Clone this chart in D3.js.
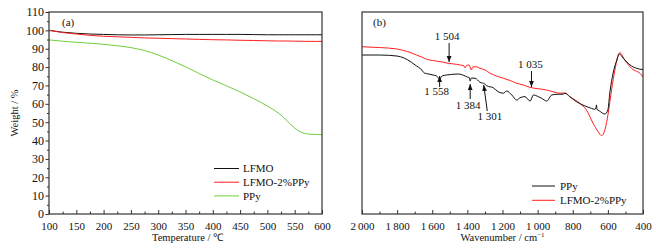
<!DOCTYPE html>
<html>
<head>
<meta charset="utf-8">
<script src="https://cdn.jsdelivr.net/npm/d3@7"></script>
<style>
  body { margin: 0; background: #fff; }
  svg text { font-family: "Liberation Serif", "Times New Roman", serif; fill: #111; }
</style>
</head>
<body>
<svg id="chart" width="656" height="250"></svg>
<script>
// (a) TGA
const tgaTemps = [100, 125, 150, 175, 200, 225, 250, 275, 300, 325, 350, 375, 400, 425, 450, 475, 500, 520, 530, 540, 550, 560, 570, 580, 590, 600];
const lfmoWeight = [100.0, 99.0, 98.4, 98.0, 97.8, 97.6, 97.5, 97.5, 97.6, 97.7, 97.8, 97.8, 97.8, 97.8, 97.8, 97.7, 97.6, 97.6, 97.6, 97.6, 97.6, 97.6, 97.6, 97.6, 97.6, 97.6];
const lfmoPpyWeight = [100.0, 98.8, 98.0, 97.3, 96.8, 96.5, 96.2, 95.9, 95.7, 95.5, 95.3, 95.1, 94.9, 94.8, 94.6, 94.5, 94.3, 94.2, 94.2, 94.2, 94.1, 94.1, 94.0, 94.0, 94.0, 94.0];
const ppyWeight = [94.8, 94.1, 93.5, 93.0, 92.4, 91.6, 90.6, 89.0, 86.6, 83.5, 80.2, 76.5, 73.0, 69.8, 66.5, 62.8, 58.8, 55.0, 52.5, 49.5, 46.8, 44.8, 43.8, 43.4, 43.3, 43.2];
const tgaXTicks = [100, 150, 200, 250, 300, 350, 400, 450, 500, 550, 600];
const tgaYTicks = [0, 10, 20, 30, 40, 50, 60, 70, 80, 90, 100, 110];
const tgaNames = ['LFMO', 'LFMO-2%PPy', 'PPy'];

// (b) FTIR
const ppyWave = [2000, 1900, 1800, 1760, 1720, 1690, 1665, 1645, 1620, 1595, 1575, 1558, 1545, 1520, 1490, 1450, 1420, 1400, 1390, 1384, 1378, 1356, 1328, 1301, 1290, 1253, 1224, 1195, 1176, 1147, 1119, 1100, 1072, 1043, 1024, 996, 977, 948, 920, 884, 855, 845, 817, 779, 731, 693, 675, 668, 665, 662, 657, 640, 617, 600, 589, 570, 549, 535, 512, 474, 436, 400];
const ppyTrans = [78.7, 78.7, 78.2, 77.2, 75.2, 73.3, 71.8, 69.8, 69.3, 68.8, 68.3, 66.8, 68.3, 68.8, 69.1, 69.3, 68.6, 67.8, 67.6, 65.8, 67.3, 67.2, 65.2, 64.4, 63.5, 62.5, 60.5, 59.8, 60.9, 58.9, 56.4, 57.6, 58.1, 55.9, 58.9, 58.1, 57.3, 55.9, 58.9, 59.3, 59.3, 59.8, 58.1, 55.6, 53.5, 52.3, 51.8, 52.5, 54.0, 51.7, 51.5, 50.5, 49.5, 51.5, 59.9, 69.8, 76.2, 79.2, 77.1, 73.8, 72.1, 71.5];
const lfmoPpyWave = [2000, 1900, 1802, 1740, 1689, 1660, 1631, 1600, 1575, 1540, 1510, 1480, 1442, 1420, 1413, 1405, 1390, 1377, 1370, 1350, 1328, 1300, 1271, 1234, 1195, 1157, 1119, 1083, 1043, 1015, 987, 950, 912, 873, 845, 817, 760, 722, 684, 655, 636, 617, 598, 579, 560, 541, 532, 504, 465, 408, 400];
const lfmoPpyTrans = [82.8, 82.4, 81.7, 80.4, 78.7, 77.7, 76.6, 76.0, 75.7, 75.2, 74.6, 74.3, 73.8, 73.3, 72.3, 73.5, 73.8, 71.3, 72.8, 72.9, 72.1, 71.3, 69.7, 68.3, 67.2, 66.1, 64.7, 63.9, 62.7, 62.2, 61.9, 61.4, 60.5, 59.8, 59.9, 58.1, 54.8, 51.5, 44.9, 40.7, 38.8, 41.6, 49.9, 61.4, 71.3, 78.7, 79.9, 76.2, 72.1, 68.8, 67.8];
const ftirXTicks = [2000, 1800, 1600, 1400, 1200, 1000, 800, 600, 400];
const ftirNames = ['PPy', 'LFMO-2%PPy'];
const peakLabels = ['1 504', '1 558', '1 384', '1 301', '1 035'];
const peakWaves = [1504, 1558, 1384, 1301, 1035];

const colors = { black: '#111111', red: '#ff1f1f', green: '#6fcf3f', frame: '#333333' };
const svg = d3.select('#chart');

// arrow head
svg.append('defs').append('marker')
    .attr('id', 'head').attr('viewBox', '0 0 6 6').attr('refX', 6).attr('refY', 3)
    .attr('markerWidth', 6).attr('markerHeight', 6).attr('markerUnits', 'userSpaceOnUse')
    .attr('orient', 'auto')
    .append('path').attr('d', 'M0,0.6L6,3L0,5.4Z').attr('fill', colors.black);

function frame(g, x0, x1, y0, y1) {
    g.append('rect').attr('x', x0).attr('y', y0).attr('width', x1 - x0).attr('height', y1 - y0)
        .attr('fill', 'none').attr('stroke', colors.frame).attr('stroke-width', 1.2);
}

function styleAxis(g) {
    g.select('.domain').remove();
    g.selectAll('line').attr('stroke', colors.frame);
    g.selectAll('text').attr('font-size', '11px').attr('fill', '#111');
}

// ---------- panel (a) ----------
const A = { left: 49, right: 322, top: 12, bottom: 214 };
const xA = d3.scaleLinear().domain([100, 600]).range([A.left, A.right]);
const yA = d3.scaleLinear().domain([0, 110]).range([A.bottom, A.top]);

svg.append('g').attr('transform', `translate(0,${A.bottom})`)
    .call(d3.axisBottom(xA).tickValues(d3.range(125, 600, 50)).tickFormat('').tickSize(-2.5))
    .call(styleAxis);
svg.append('g').attr('transform', `translate(0,${A.bottom})`)
    .call(d3.axisBottom(xA).tickValues(tgaXTicks).tickSize(-4).tickPadding(8).tickFormat(d3.format('d')))
    .call(styleAxis)
    .selectAll('text').attr('dy', '0.71em');
svg.append('g').attr('transform', `translate(${A.left},0)`)
    .call(d3.axisLeft(yA).tickValues(d3.range(5, 110, 10)).tickFormat('').tickSize(2))
    .call(styleAxis);
svg.append('g').attr('transform', `translate(${A.left},0)`)
    .call(d3.axisLeft(yA).tickValues(tgaYTicks).tickSize(3.5).tickPadding(1.5))
    .call(styleAxis)
    .selectAll('text').attr('font-size', '12px');

const lineA = d3.line().x((d, i) => xA(tgaTemps[i])).y(d => yA(d)).curve(d3.curveMonotoneX);
[[lfmoWeight, colors.black], [lfmoPpyWeight, colors.red], [ppyWeight, colors.green]].forEach(([vals, c]) => {
    svg.append('path').datum(vals).attr('d', lineA)
        .attr('fill', 'none').attr('stroke', c).attr('stroke-width', 1);
});
frame(svg, A.left, A.right, A.top, A.bottom);

svg.append('text').attr('x', 62).attr('y', 26).attr('font-size', '11px').text('(a)');
svg.append('text').attr('x', (A.left + A.right) / 2 + 2).attr('y', 241)
    .attr('text-anchor', 'middle').attr('font-size', '10.5px').text('Temperature / \u2103');
svg.append('text').attr('transform', `translate(18,${(A.top + A.bottom) / 2}) rotate(-90)`)
    .attr('text-anchor', 'middle').attr('font-size', '10.5px').text('Weight / %');

const legA = svg.append('g');
tgaNames.forEach((n, i) => {
    const y = 168.5 + i * 13.7;
    legA.append('line').attr('x1', 214).attr('x2', 239).attr('y1', y).attr('y2', y)
        .attr('stroke', [colors.black, colors.red, colors.green][i]).attr('stroke-width', 1);
    legA.append('text').attr('x', 243).attr('y', y + 3.8).attr('font-size', '11px').text(n);
});

// ---------- panel (b) ----------
const B = { left: 362, right: 643, top: 12, bottom: 214 };
const xB = d3.scaleLinear().domain([2000, 400]).range([B.left, B.right]);
const yB = d3.scaleLinear().domain([0, 100]).range([B.bottom, B.top]);
const fmtWave = d => d >= 1000 ? `${Math.floor(d / 1000)}\u2009${String(d % 1000).padStart(3, '0')}` : String(d);

svg.append('g').attr('transform', `translate(0,${B.bottom})`)
    .call(d3.axisBottom(xB).tickValues(d3.range(1900, 400, -200)).tickFormat('').tickSize(-2.5))
    .call(styleAxis);
svg.append('g').attr('transform', `translate(0,${B.bottom})`)
    .call(d3.axisBottom(xB).tickValues(ftirXTicks).tickSize(-4).tickPadding(8).tickFormat(fmtWave))
    .call(styleAxis)
    .selectAll('text').attr('dy', '0.71em');

const lineB = d3.line().x(d => xB(d[0])).y(d => yB(d[1])).curve(d3.curveMonotoneX);
svg.append('path').datum(d3.zip(lfmoPpyWave, lfmoPpyTrans)).attr('d', lineB)
    .attr('fill', 'none').attr('stroke', colors.red).attr('stroke-width', 1);
svg.append('path').datum(d3.zip(ppyWave, ppyTrans)).attr('d', lineB)
    .attr('fill', 'none').attr('stroke', colors.black).attr('stroke-width', 1);
frame(svg, B.left, B.right, B.top, B.bottom);

svg.append('text').attr('x', 373).attr('y', 26).attr('font-size', '11px').text('(b)');
svg.append('text').attr('x', (B.left + B.right) / 2).attr('y', 241)
    .attr('text-anchor', 'middle').attr('font-size', '10.5px')
    .text('Wavenumber / cm').append('tspan').attr('dy', -4).attr('font-size', '7px').text('\u22121');

// peak annotation placement
const peakStyle = [
    { tx: -2, ty: 40, y1: 43, y2: 62, bx: 0 },
    { tx: -3, ty: 95, y1: 87, y2: 76, bx: 0 },
    { tx: -2, ty: 109, y1: 99, y2: 84, bx: 0 },
    { tx: 5, ty: 120, y1: 111, y2: 85, bx: 2.5 },
    { tx: -1, ty: 68, y1: 71, y2: 87, bx: 0 }
];
peakWaves.forEach((w, i) => {
    const s = peakStyle[i];
    const x = xB(w);
    svg.append('line').attr('x1', x + s.bx).attr('x2', x - s.bx * 0.4).attr('y1', s.y1).attr('y2', s.y2)
        .attr('stroke', colors.black).attr('stroke-width', 1).attr('marker-end', 'url(#head)');
    svg.append('text').attr('x', x + s.tx).attr('y', s.ty).attr('text-anchor', 'middle')
        .attr('font-size', '11px').text(peakLabels[i]);
});

const legB = svg.append('g');
ftirNames.forEach((n, i) => {
    const y = 186 + i * 14.3;
    legB.append('line').attr('x1', 532).attr('x2', 555).attr('y1', y).attr('y2', y)
        .attr('stroke', [colors.black, colors.red][i]).attr('stroke-width', 1);
    legB.append('text').attr('x', 560).attr('y', y + 3.8).attr('font-size', '11px').text(n);
});
</script>
</body>
</html>
